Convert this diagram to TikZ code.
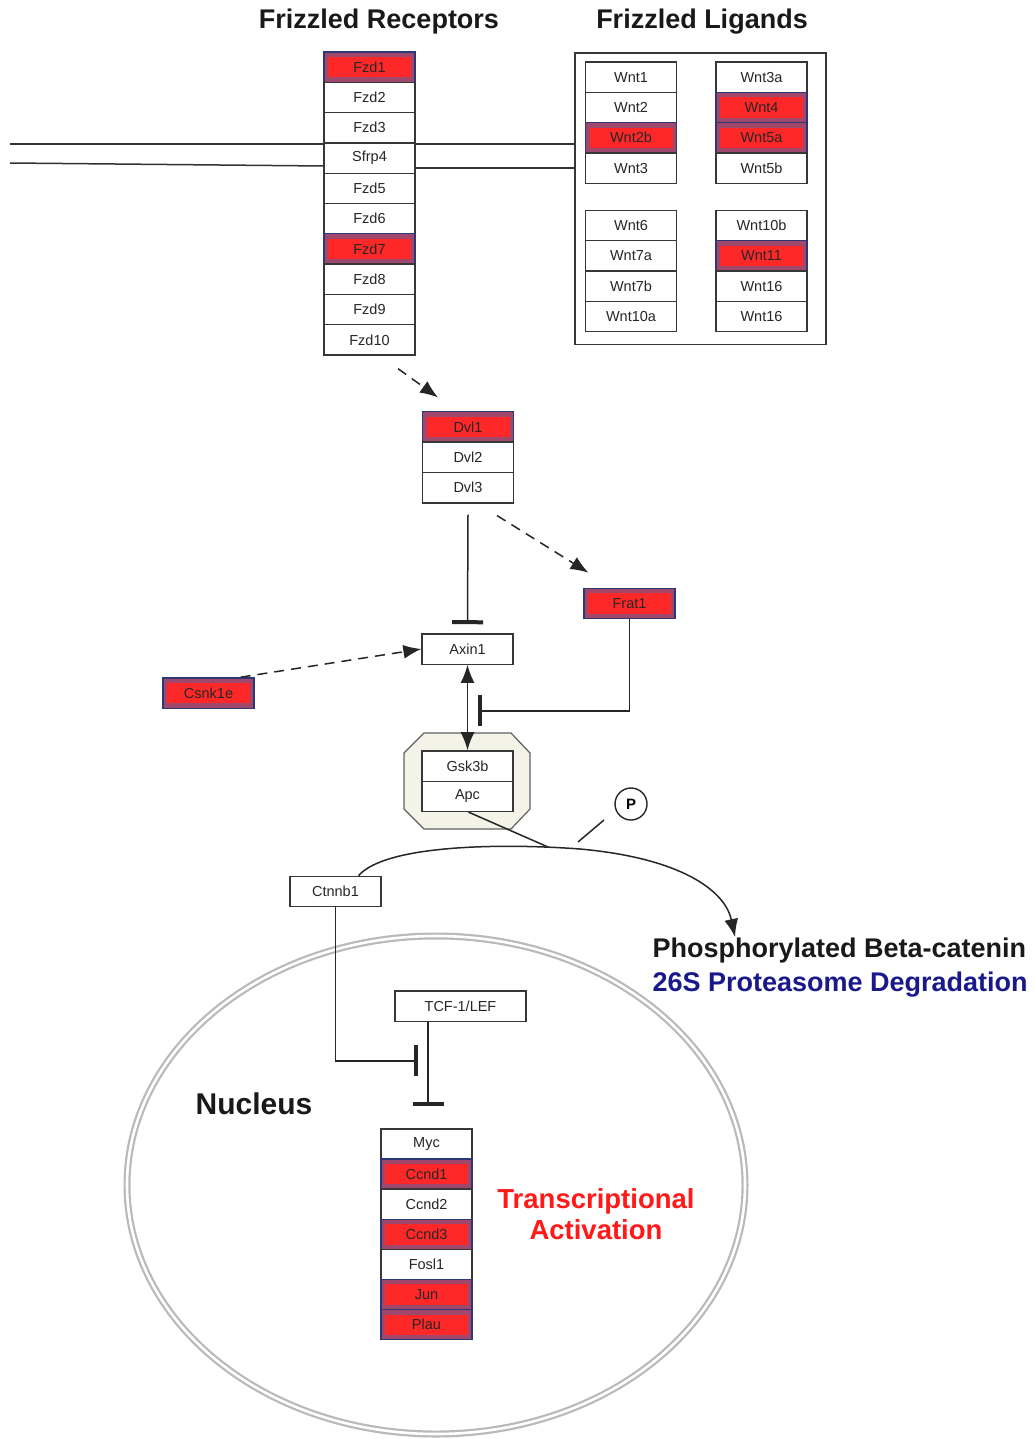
\documentclass[tikz,border=0pt]{standalone}
\usepackage{fontspec}
\setmainfont{Liberation Sans}
\usetikzlibrary{arrows.meta,calc}
\definecolor{redin}{RGB}{255,40,40}
\definecolor{mauve}{RGB}{160,72,108}
\definecolor{navyb}{RGB}{45,55,120}
\definecolor{navytxt}{RGB}{25,25,140}
\definecolor{boxline}{RGB}{55,55,55}
\definecolor{octfill}{RGB}{243,243,232}
\definecolor{titlered}{RGB}{255,25,25}
\begin{document}
\begin{tikzpicture}[x=1pt,y=-1pt,
  cell/.style={draw=boxline, line width=1.3pt, fill=white, minimum width=91pt, minimum height=30.3pt,
    inner sep=0pt, font=\fontsize{14.5}{15}\selectfont, text=black!85},
  w cell/.style={cell},
  r cell/.style={cell, draw=navyb, fill=mauve,
    path picture={\fill[redin] ([shift={(4pt,-5pt)}]path picture bounding box.north west)
      rectangle ([shift={(-4pt,5pt)}]path picture bounding box.south east);}},
  line/.style={draw=black!85, line width=1.5pt},
  memb/.style={draw=black!80, line width=1.5pt},
  tip/.tip={Latex[length=18pt,width=14pt]},
  dasharrow/.style={line, dash pattern=on 10pt off 7pt, -tip},
  inhib/.style={line, -{Bar[width=31pt,line width=4pt]}},
  title/.style={font=\bfseries\fontsize{27}{30}\selectfont, text=black!90},
  big/.style={font=\bfseries\fontsize{27}{30}\selectfont, anchor=west}
]
\useasboundingbox (0,0) rectangle (1035,1439);
\fill[white] (0,0) rectangle (1035,1439);

% nucleus
\draw[gray!55, line width=7pt] (436,1185) ellipse [x radius=309, y radius=249];
\draw[white, line width=2.6pt] (436,1185) ellipse [x radius=309, y radius=249];

% membrane
\draw[memb] (10,144) -- (324,144);
\draw[memb] (10,163) -- (324,166);
\draw[memb] (415,144) -- (574,144);
\draw[memb] (415,168) -- (574,168);

% titles
\node[title] (t1) at (379,21.5) {Frizzled Receptors};
\node[title] (t2) at (702,21.5) {Frizzled Ligands};

% Frizzled receptors
\foreach \t/\s [count=\i] in {Fzd1/r,Fzd2/w,Fzd3/w,Sfrp4/w,Fzd5/w,Fzd6/w,Fzd7/r,Fzd8/w,Fzd9/w,Fzd10/w}
  \node[\s\space cell] (fz\i) at (369.5,{52+30.3*(\i-0.5)}) {\t};

% Wnt box
\node[draw=boxline, line width=1.5pt, fill=white, minimum width=251pt, minimum height=291pt, inner sep=0pt, anchor=north west] (wntbox) at (574,52.5) {};
\foreach \t/\s [count=\i] in {Wnt1/w,Wnt2/w,Wnt2b/r,Wnt3/w}
  \node[\s\space cell] (wa\i) at (631,{62+30.3*(\i-0.5)}) {\t};
\foreach \t/\s [count=\i] in {Wnt3a/w,Wnt4/r,Wnt5a/r,Wnt5b/w}
  \node[\s\space cell] (wb\i) at (761.5,{62+30.3*(\i-0.5)}) {\t};
\foreach \t/\s [count=\i] in {Wnt6/w,Wnt7a/w,Wnt7b/w,Wnt10a/w}
  \node[\s\space cell] (wc\i) at (631,{210.5+30.3*(\i-0.5)}) {\t};
\foreach \t/\s [count=\i] in {Wnt10b/w,Wnt11/r,Wnt16/w,Wnt16/w}
  \node[\s\space cell] (wd\i) at (761.5,{210.5+30.3*(\i-0.5)}) {\t};

% Dvl
\foreach \t/\s [count=\i] in {Dvl1/r,Dvl2/w,Dvl3/w}
  \node[\s\space cell] (dvl\i) at (468,{411.5+30.5*(\i-0.5)}) {\t};

% single nodes
\node[r cell] (frat) at (629.5,603.5) {Frat1};
\node[w cell] (axin) at (467.5,649) {Axin1};
\node[r cell] (csnk) at (208.5,693) {Csnk1e};

% octagon complex
\draw[fill=octfill, draw=gray!75!black, line width=1.2pt]
  (424,733) -- (511,733) -- (530,753) -- (530,809) -- (511,829) -- (424,829) -- (404,809) -- (404,753) -- cycle;
\node[w cell] (gsk) at (467.5,766) {Gsk3b};
\node[w cell] (apc) at (467.5,796.3) {Apc};

\node[w cell] (ctn) at (335.5,891.5) {Ctnnb1};
\node[w cell, minimum width=131pt] (tcf) at (460.5,1006) {TCF-1/LEF};

% genes
\foreach \t/\s [count=\i] in {Myc/w,Ccnd1/r,Ccnd2/w,Ccnd3/r,Fosl1/w,Jun/r,Plau/r}
  \node[\s\space cell] (g\i) at (426.5,{1129+30.1*(\i-0.5)}) {\t};

% P circle
\node[circle, draw=black!85, line width=1.4pt, fill=white, minimum size=32pt, inner sep=0pt,
  font=\bfseries\fontsize{15}{15}\selectfont] (p) at (631,804) {P};

% connectors
\draw[dasharrow] ($(fz10.south)+(28.5,13)$) -- ($(dvl1.north)+(-30,-13.5)$);
\draw[inhib] ($(dvl3.south)+(0,11)$) -- ($(axin.north)+(0,-9)$);
\draw[dasharrow] ($(dvl3.south)+(29,12)$) -- ($(frat.north)+(-41,-15)$);
\draw[inhib] (frat.south) |- ($(axin.south)+(10.5,46)$);
\draw[line, tip-tip] (axin.south) -- (gsk.north);
\draw[dasharrow] ($(csnk.north east)+(-14,0)$) -- (axin.west);

% beta-catenin arc
\coordinate (deg) at (735,937);
\coordinate (apcmeet) at (548,847);
\draw[line, -tip] ($(ctn.north)+(23,0)$) .. controls (385,845) and (500,843) .. (580,849)
  .. controls (680,858) and (725,890) .. (deg);
\draw[line] ($(apc.south)+(1,0)$) -- (apcmeet);
\draw[line] ($(p)+(-27,16)$) -- ($(p)+(-53,38)$);

\draw[inhib] (ctn.south) |- ($(tcf.south)+(-43,39)$);
\draw[inhib] ($(tcf.south)+(-32.5,0)$) -- ($(g1.north)+(1.5,-22)$);

% labels
\node[big, text=black!90] (phos) at (649,951) {Phosphorylated Beta-catenin};
\node[big, text=navytxt] (deg26) at (649,985) {26S Proteasome Degradation};
\node[font=\bfseries\fontsize{30}{34}\selectfont, text=black!90] (nuc) at (254,1104) {Nucleus};
\node[font=\bfseries\fontsize{27.5}{31}\selectfont, text=titlered, align=center] (ta) at (596,1214) {Transcriptional\\Activation};
\end{tikzpicture}
\end{document}
